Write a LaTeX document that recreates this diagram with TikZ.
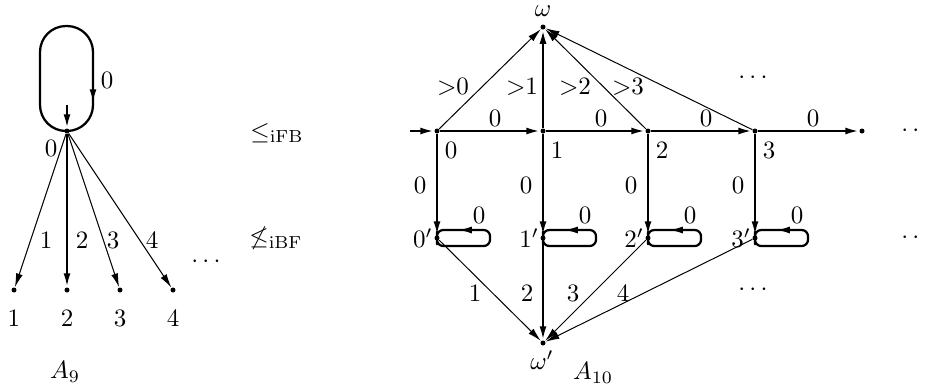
\documentclass[tikz,border=0pt]{standalone}
\usepackage{amsmath,amssymb}
\usetikzlibrary{arrows.meta,calc}

\begin{document}
\begin{tikzpicture}[x=0.4pt,y=-0.4pt,line join=round,
  >={Latex[length=5.5pt,width=2.8pt]},
  st/.style={circle,fill,inner sep=0pt,minimum size=2pt},
  hv/.style={line width=0.9pt},
  dg/.style={line width=0.4pt}]
\useasboundingbox (0,0) rectangle (925,388);
% A_9: loop state with its fan of leaves
\node[st] (h) at (67,131) {};
\coordinate (hin) at (67,105);
\draw[hv,rounded corners=10.4pt] (h.center) -- (40,131) -- (40,26) -- (93,26) -- (93,131) -- (h.center);
\draw[hv,->] (93,86) -- (93,103);
\draw[hv,->] (hin) -- (h);
\node (hlab) at (51,148) {$0$};
\node (hloop) at (107,80) {$0$};
\foreach \i/\x/\lx in {1/14/46,2/67/82,3/120/113,4/173/152}{
  \node[st] (l\i) at (\x,290) {};
  \node (ln\i) at (\x,318) {$\i$};
  \node (le\i) at (\lx,240) {$\i$};}
\draw[dg,->] (h) -- (l1);
\draw[hv,->] (h) -- (l2);
\draw[dg,->] (h) -- (l3);
\draw[dg,->] (h) -- (l4);
\node (ldots) at (208,262) {$\cdots$};
\node (a9) at (65,372) {$A_9$};
% the two relations
\node (rfb) at (277,133) {$\leq_{\mathrm{iFB}}$};
\node (rbf) at (276,238) {$\not\leq_{\mathrm{iBF}}$};
% A_10: top row, primed row, omega and omega'
\node[st] (w) at (543,27) {};
\node[st] (wp) at (543,343) {};
\node[st] (e) at (862,131) {};
\coordinate (s) at (410,131);
\foreach \i/\x in {0/437,1/543,2/648,3/755}{
  \node[st] (p\i) at (\x,131) {};
  \node[st] (q\i) at (\x,238) {};
  \node (pn\i) at ($(p\i)+(14,19)$) {$\i$};
  \node (qn\i) at ($(q\i)+(-14,0)$) {$\i'$};
  \node (ve\i) at ($(q\i)+(-17,-53)$) {$0$};
  \node (he\i) at ($(p\i)+(58,-13)$) {$0$};
  \node (lp\i) at ($(q\i)+(42,-23)$) {$0$};
  \draw[hv,->] (p\i) -- (q\i);
  \draw[hv,rounded corners=2.5pt] (q\i.center) -- ++(0,-8) -- ++(53,0) -- ++(0,16) -- ++(-53,0) -- cycle;
  \draw[hv,->] ($(q\i)+(33,-8)$) -- ($(q\i)+(21,-8)$);}
\draw[hv,->] (s) -- (p0);
\draw[hv,->] (p0) -- (p1);
\draw[hv,->] (p1) -- (p2);
\draw[hv,->] (p2) -- (p3);
\draw[hv,->] (p3) -- (e);
\draw[dg,->] (p0) -- (w);
\draw[hv,->] (p1) -- (w);
\draw[dg,->] (p2) -- (w);
\draw[dg,->] (p3) -- (w);
\draw[dg,->] (q0) -- (wp);
\draw[hv,->] (q1) -- (wp);
\draw[dg,->] (q2) -- (wp);
\draw[dg,->] (q3) -- (wp);
\foreach \k/\x in {0/453,1/522,2/575,3/628}{\node (gt\k) at (\x,87) {${>}\k$};}
\foreach \k/\x in {1/475,2/527,3/573,4/623}{\node (dn\k) at (\x,293) {$\k$};}
\node (wlab) at (543,11) {$\omega$};
\node (wplab) at (542,360) {$\omega'$};
\node (a10) at (593,373) {$A_{10}$};
\node (tdots) at (755,78) {$\cdots$};
\node (bdots) at (755,290) {$\cdots$};
\node (rdots1) at (918,131) {$\cdots$};
\node (rdots2) at (918,238) {$\cdots$};
\end{tikzpicture}
\end{document}
